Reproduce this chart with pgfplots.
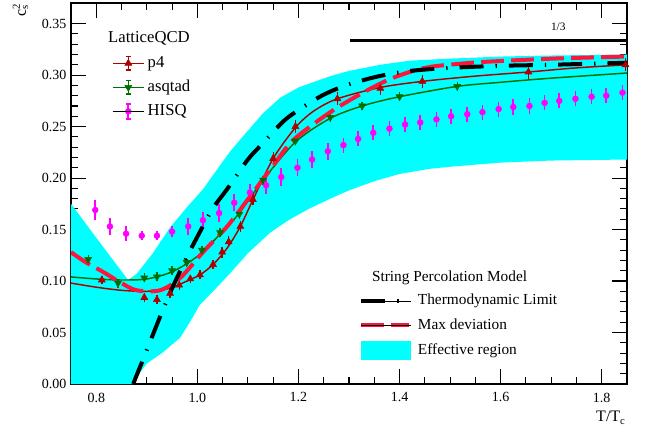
\documentclass[border=0pt]{standalone}
\usepackage{pgfplots}
\pgfplotsset{compat=1.18}
\usepackage{fontspec}
\setmainfont{Liberation Serif}

\definecolor{pfour}{RGB}{175,0,0}
\definecolor{asq}{RGB}{0,110,0}
\definecolor{hisq}{RGB}{255,0,255}
\definecolor{maxdev}{RGB}{255,20,60}
\definecolor{band}{RGB}{0,255,255}

\tikzset{
  thermo/.style={black, line width=3pt, dash pattern=on 18pt off 9pt on 1pt off 9pt},
  maxd/.style={maxdev, line width=3pt, dash pattern=on 17pt off 5.5pt},
}
\pgfplotsset{
  frame/.style={
    scale only axis, width=417pt, height=285.75pt,
    xmin=0.75, xmax=1.85, ymin=0, ymax=0.37,
  },
  p4leg/.style={legend image code/.code={
    \draw[pfour, line width=1.1pt] (0pt,0pt) -- (23pt,0pt);
    \draw[pfour, line width=1pt] (11.5pt,-5pt) -- (11.5pt,5pt)
      (9.5pt,5pt) -- (13.5pt,5pt) (9.5pt,-5pt) -- (13.5pt,-5pt);
    \draw[pfour, mark=triangle*, mark size=3pt] plot coordinates {(11.5pt,0pt)};}},
  asqleg/.style={legend image code/.code={
    \draw[asq, line width=1.1pt] (0pt,0pt) -- (23pt,0pt);
    \draw[asq, line width=1pt] (11.5pt,-5pt) -- (11.5pt,5pt)
      (9.5pt,5pt) -- (13.5pt,5pt) (9.5pt,-5pt) -- (13.5pt,-5pt);
    \draw[asq, mark=triangle*, mark size=3pt, mark options={rotate=180}] plot coordinates {(11.5pt,0pt)};}},
  hisqleg/.style={legend image code/.code={
    \draw[hisq, line width=1.3pt] (11.5pt,-5.5pt) -- (11.5pt,5.5pt)
      (9.5pt,5.5pt) -- (13.5pt,5.5pt) (9.5pt,-5.5pt) -- (13.5pt,-5.5pt);
    \draw[hisq, mark=*, mark size=2.2pt] plot coordinates {(11.5pt,0pt)};
    \path (0pt,0pt) -- (23pt,0pt);}},
  thermoleg/.style={legend image code/.code={
    \draw[thermo] (0pt,0pt) -- (28pt,0pt);
    \path (0pt,0pt) -- (37pt,0pt);}},
  maxdleg/.style={legend image code/.code={
    \draw[maxd] (0pt,0pt) -- (36pt,0pt);
    \path (0pt,0pt) -- (37pt,0pt);}},
  bandleg/.style={legend image code/.code={
    \fill[band] (0pt,-6.75pt) rectangle (37pt,6.75pt);}},
}

% HISQ points with errors
\pgfplotstableread{
x y e
0.798 0.169 0.007
0.827 0.153 0.006
0.859 0.146 0.005
0.890 0.144 0.002
0.920 0.144 0.002
0.950 0.148 0.003
0.982 0.153 0.006
1.011 0.159 0.006
1.043 0.166 0.006
1.073 0.176 0.006
1.104 0.186 0.006
1.136 0.193 0.006
1.166 0.201 0.006
1.198 0.210 0.006
1.227 0.218 0.006
1.258 0.226 0.006
1.289 0.232 0.005
1.318 0.238 0.005
1.348 0.244 0.005
1.380 0.248 0.005
1.411 0.252 0.005
1.441 0.254 0.005
1.473 0.257 0.005
1.502 0.260 0.005
1.534 0.262 0.005
1.564 0.264 0.005
1.596 0.267 0.005
1.625 0.269 0.005
1.657 0.270 0.005
1.687 0.273 0.005
1.716 0.275 0.005
1.748 0.277 0.005
1.780 0.279 0.005
1.809 0.280 0.005
1.841 0.283 0.005
}\hisqdata

\pgfplotstableread{
x y e
0.811 0.101 0.002
0.895 0.084 0.002
0.920 0.082 0.002
0.946 0.088 0.002
0.964 0.096 0.002
0.986 0.102 0.002
1.005 0.106 0.002
1.031 0.116 0.002
1.049 0.128 0.003
1.062 0.138 0.003
1.085 0.153 0.003
1.110 0.179 0.003
1.150 0.219 0.004
1.194 0.250 0.004
1.277 0.277 0.004
1.362 0.287 0.004
1.445 0.294 0.004
1.655 0.303 0.004
1.847 0.310 0.004
}\pfourdata

\pgfplotstableread{
x y e
0.784 0.121 0.002
0.843 0.098 0.002
0.895 0.103 0.002
0.920 0.104 0.002
0.950 0.110 0.002
0.979 0.118 0.002
1.009 0.130 0.002
1.045 0.147 0.002
1.083 0.165 0.002
1.130 0.198 0.002
1.194 0.236 0.002
1.263 0.259 0.002
1.326 0.270 0.002
1.400 0.279 0.002
1.514 0.289 0.002
}\asqdata

\begin{document}
\begin{tikzpicture}
\begin{axis}[
  frame,
  axis line style={line width=0.8pt},
  xtick={0.8,1.0,1.2,1.4,1.6,1.8},
  ytick={0,0.05,0.10,0.15,0.20,0.25,0.30,0.35},
  minor x tick num=3, minor y tick num=4,
  major tick length=11.5pt, minor tick length=5.5pt,
  every tick/.style={black, line width=0.8pt},
  scaled y ticks=false, scaled x ticks=false,
  /pgf/number format/assume math mode=true,
  tick label style={font=\fontsize{10.5}{12}\selectfont},
  xticklabel style={yshift=-3pt, /pgf/number format/.cd, fixed, fixed zerofill, precision=1},
  yticklabel style={/pgf/number format/.cd, fixed, fixed zerofill, precision=2},
  xlabel={T/T\textsubscript{c}},
  xlabel style={at={(axis description cs:1,0)}, anchor=north east, yshift=-17pt, xshift=2.5pt,
    font=\fontsize{12}{14}\selectfont},
  ylabel={c\rlap{\textsuperscript{2}}\textsubscript{s}},
  ylabel style={at={([xshift=-28.5pt,yshift=2.25pt]axis description cs:0,1)},
    anchor=south east, rotate=0, font=\fontsize{12}{14}\selectfont},
  legend style={at={(0.0737,0.866)}, anchor=north west, draw=none, fill=none,
    inner sep=0pt, row sep=4.5pt, font=\fontsize{12.5}{14}\selectfont,
    nodes={inner sep=1pt, text height=9pt, text depth=2.5pt},
    /tikz/every odd column/.append style={column sep=1.5pt}},
  legend cell align=left,
]
% effective region
\addplot[fill=band, draw=none, forget plot] coordinates {
  (0.75,0.175)(0.80,0.142)(0.863,0.101)(0.88,0.107)(0.912,0.127)(0.946,0.152)
  (0.98,0.172)(1.011,0.189)(1.04,0.209)(1.065,0.226)(1.10,0.246)(1.13,0.263)
  (1.164,0.278)(1.20,0.288)(1.263,0.299)(1.30,0.304)(1.362,0.310)(1.42,0.314)
  (1.50,0.316)(1.60,0.318)(1.70,0.319)(1.85,0.320)
  (1.85,0.218)(1.70,0.217)(1.60,0.215)(1.50,0.211)(1.46,0.209)(1.40,0.204)
  (1.35,0.197)(1.30,0.188)(1.263,0.180)(1.22,0.170)(1.18,0.159)(1.144,0.147)
  (1.10,0.127)(1.06,0.105)(1.031,0.090)(1.005,0.077)(0.985,0.060)(0.966,0.045)
  (0.93,0.030)(0.90,0.020)(0.885,0.010)(0.873,0)(0.75,0)
} -- cycle;

% 1/3 limit
\addplot[black, line width=2pt, forget plot] coordinates {(1.302,0.3333)(1.85,0.3333)};
\node[font=\fontsize{8.5}{10}\selectfont] at (axis cs:1.714,0.347) {1/3};

% HISQ
\addplot[only marks, hisq, mark=*, mark size=2.2pt, forget plot,
  error bars/.cd, y dir=both, y explicit,
  error bar style={line width=1.3pt, hisq},
  error mark options={line width=1.3pt, mark size=1.8pt, hisq}]
  table[x=x, y=y, y error=e] {\hisqdata};

% asqtad
\addplot[asq, line width=1.1pt, smooth, forget plot] coordinates {
  (0.75,0.104)(0.80,0.102)(0.85,0.101)(0.90,0.102)(0.95,0.109)(1.0,0.124)
  (1.05,0.148)(1.083,0.166)(1.13,0.198)(1.194,0.235)(1.263,0.258)(1.326,0.270)
  (1.40,0.279)(1.514,0.289)(1.60,0.293)(1.70,0.297)(1.85,0.302)
};
\addplot[only marks, asq, mark=triangle*, mark size=3pt, mark options={rotate=180}, forget plot,
  error bars/.cd, y dir=both, y explicit,
  error bar style={line width=1pt, asq},
  error mark options={line width=1pt, mark size=1.8pt, asq}]
  table[x=x, y=y, y error=e] {\asqdata};

% p4
\addplot[pfour, line width=1.1pt, smooth, forget plot] coordinates {
  (0.75,0.098)(0.80,0.094)(0.85,0.091)(0.90,0.090)(0.946,0.093)(0.975,0.099)
  (1.005,0.106)(1.031,0.116)(1.059,0.132)(1.085,0.153)(1.11,0.179)(1.15,0.219)
  (1.194,0.249)(1.23,0.265)(1.277,0.277)(1.362,0.288)(1.447,0.294)(1.55,0.299)
  (1.655,0.303)(1.75,0.307)(1.85,0.310)
};
\addplot[only marks, pfour, mark=triangle*, mark size=3pt, forget plot,
  error bars/.cd, y dir=both, y explicit,
  error bar style={line width=1pt, pfour},
  error mark options={line width=1pt, mark size=1.8pt, pfour}]
  table[x=x, y=y, y error=e] {\pfourdata};

% max deviation
\addplot[maxd, smooth, forget plot] coordinates {
  (0.75,0.128)(0.78,0.118)(0.813,0.109)(0.85,0.098)(0.88,0.091)(0.926,0.091)
  (0.966,0.103)(1.011,0.128)(1.059,0.153)(1.104,0.182)(1.15,0.212)(1.19,0.237)
  (1.263,0.264)(1.328,0.283)(1.376,0.295)(1.42,0.303)(1.461,0.308)(1.52,0.311)
  (1.574,0.313)(1.704,0.316)(1.85,0.318)
};

% thermodynamic limit
\addplot[thermo, smooth, forget plot] coordinates {
  (0.873,0)(0.90,0.033)(0.926,0.065)(0.95,0.093)(0.98,0.124)(1.0,0.143)
  (1.03,0.170)(1.06,0.190)(1.10,0.218)(1.13,0.234)(1.17,0.255)(1.20,0.266)
  (1.25,0.281)(1.30,0.291)(1.36,0.299)(1.42,0.304)(1.50,0.307)(1.60,0.309)
  (1.70,0.310)(1.85,0.312)
};

% LatticeQCD legend
\addlegendimage{p4leg}
\addlegendentry{p4}
\addlegendimage{asqleg}
\addlegendentry{asqtad}
\addlegendimage{hisqleg}
\addlegendentry{HISQ}

\node[anchor=west, font=\fontsize{12.5}{14}\selectfont, inner sep=0pt]
  at (axis description cs:0.0665,0.908) {LatticeQCD};
\node[anchor=west, font=\fontsize{11.5}{13}\selectfont, inner sep=0pt]
  at (axis description cs:0.541,0.278) {String Percolation Model};

\coordinate (SW) at (rel axis cs:0,0);
\coordinate (NE) at (rel axis cs:1,1);
\end{axis}

% second legend
\begin{axis}[
  frame, hide axis,
  legend style={at={(0.518,0.2415)}, anchor=north west, draw=none, fill=none,
    inner sep=0pt, row sep=5.4pt, font=\fontsize{11.5}{13}\selectfont,
    nodes={inner sep=1pt, text height=8.5pt, text depth=2.5pt},
    /tikz/every odd column/.append style={column sep=4pt}},
  legend cell align=left,
]
\addlegendimage{thermoleg}
\addlegendentry{Thermodynamic Limit}
\addlegendimage{maxdleg}
\addlegendentry{Max deviation}
\addlegendimage{bandleg}
\addlegendentry{Effective region}
\end{axis}

\pgfresetboundingbox
\path ([shift={(-53.25pt,-33pt)}]SW) rectangle ([shift={(21pt,2.25pt)}]NE);
\end{tikzpicture}
\end{document}
